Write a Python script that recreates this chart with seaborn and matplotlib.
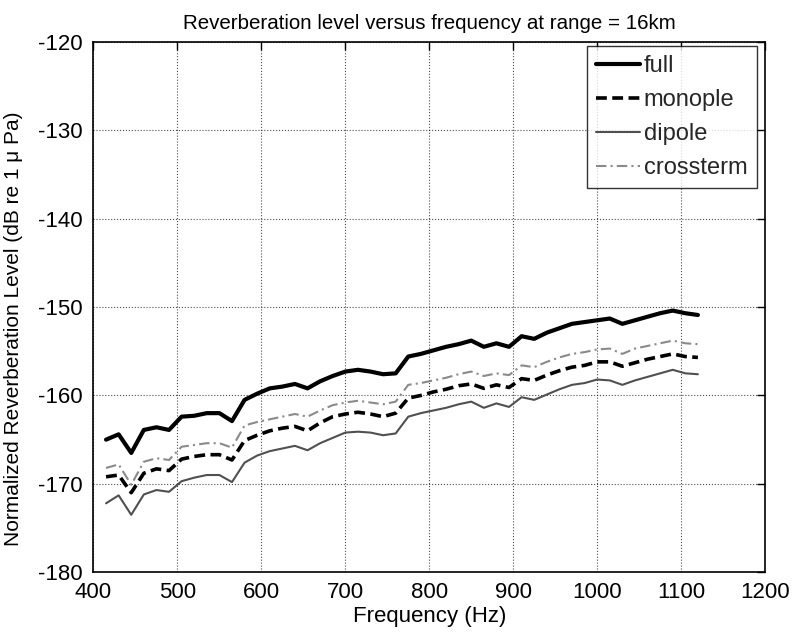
import matplotlib
matplotlib.use("Agg")
import matplotlib.pyplot as plt
import seaborn as sns
import pandas as pd

freq = [415, 430, 445, 460, 475, 490, 505, 520, 535, 550, 565, 580, 595, 610, 625, 640,
        655, 670, 685, 700, 715, 730, 745, 760, 775, 790, 805, 820, 835, 850, 865, 880,
        895, 910, 925, 940, 955, 970, 985, 1000, 1015, 1030, 1045, 1060, 1075, 1090, 1105, 1120]

full = [-165.0, -164.4, -166.5, -163.9, -163.6, -163.9, -162.4, -162.3, -162.0, -162.0, -162.9, -160.5,
        -159.8, -159.2, -159.0, -158.7, -159.2, -158.4, -157.8, -157.3, -157.1, -157.3, -157.6, -157.5,
        -155.6, -155.3, -154.9, -154.5, -154.2, -153.8, -154.5, -154.1, -154.5, -153.3, -153.6, -152.9,
        -152.4, -151.9, -151.7, -151.5, -151.3, -151.9, -151.5, -151.1, -150.7, -150.4, -150.7, -150.9]

monople = [-169.2, -169.0, -171.0, -168.8, -168.3, -168.5, -167.2, -166.9, -166.7, -166.7, -167.3, -165.1,
           -164.5, -164.0, -163.7, -163.5, -164.0, -163.1, -162.4, -162.1, -161.9, -162.1, -162.4, -162.0,
           -160.3, -160.0, -159.6, -159.3, -158.9, -158.7, -159.2, -158.8, -159.1, -158.1, -158.3, -157.7,
           -157.2, -156.8, -156.6, -156.2, -156.2, -156.7, -156.3, -155.9, -155.6, -155.3, -155.6, -155.7]

dipole = [-172.2, -171.3, -173.5, -171.2, -170.7, -170.9, -169.7, -169.3, -169.0, -169.0, -169.8, -167.6,
          -166.8, -166.3, -166.0, -165.7, -166.2, -165.4, -164.8, -164.2, -164.1, -164.2, -164.5, -164.3,
          -162.4, -162.0, -161.7, -161.4, -161.0, -160.7, -161.4, -160.9, -161.3, -160.2, -160.5, -159.9,
          -159.3, -158.8, -158.6, -158.2, -158.3, -158.8, -158.3, -157.9, -157.5, -157.1, -157.5, -157.6]

crossterm = [-168.2, -167.8, -170.1, -167.5, -167.1, -167.3, -165.8, -165.6, -165.4, -165.4, -165.9, -163.4,
             -163.0, -162.7, -162.4, -162.1, -162.4, -161.7, -161.1, -160.8, -160.6, -160.8, -161.0, -160.7,
             -158.8, -158.6, -158.3, -158.0, -157.6, -157.3, -157.8, -157.5, -157.7, -156.6, -156.8, -156.2,
             -155.7, -155.3, -155.1, -154.8, -154.7, -155.3, -154.7, -154.4, -154.1, -153.8, -154.1, -154.2]

x_ticks = [400, 500, 600, 700, 800, 900, 1000, 1100, 1200]
y_ticks = [-180, -170, -160, -150, -140, -130, -120]

sns.set_theme(style="white")
plt.rcParams['font.family'] = ['Liberation Sans', 'DejaVu Sans']
plt.rcParams['axes.unicode_minus'] = False

fig = plt.figure(figsize=(7.92, 6.43), dpi=100)
ax = fig.add_axes([0.118, 0.110, 0.848, 0.825])

series = [
    ("full", full, dict(color="black", lw=3.0, ls="-")),
    ("monople", monople, dict(color="black", lw=2.6, ls=(0, (3, 1.5)))),
    ("dipole", dipole, dict(color="#505050", lw=1.5, ls="-")),
    ("crossterm", crossterm, dict(color="#8a8a8a", lw=1.5, ls=(0, (5, 2, 1, 2)))),
]
for name, vals, st in series:
    df = pd.DataFrame({"freq": freq, "val": vals})
    sns.lineplot(data=df, x="freq", y="val", ax=ax, label=name,
                 color=st["color"], linewidth=st["lw"], linestyle=st["ls"])

ax.set_xlim(400, 1200)
ax.set_ylim(-180, -120)
ax.set_xticks(x_ticks)
ax.set_yticks(y_ticks)
ax.tick_params(direction="in", length=6, top=True, right=True, labelsize=16, colors="black", width=1)
ax.tick_params(axis="y", pad=8)
ax.tick_params(axis="x", pad=7)
ax.grid(True, linestyle=":", color="black", linewidth=0.8, alpha=0.7)
for s in ax.spines.values():
    s.set_color("black")
    s.set_linewidth(1.2)
ax.set_xlabel("Frequency (Hz)", fontsize=16, color="black", labelpad=2)
ax.set_ylabel("Normalized Reverberation Level (dB re 1 μ Pa)", fontsize=15, color="black")
ax.yaxis.set_label_coords(-0.105, 0.46)
ax.set_title("Reverberation level versus frequency at range = 16km", fontsize=14.8, color="black", pad=9)

leg = ax.legend(loc="upper right", bbox_to_anchor=(757 / 792, 1 - 46 / 643),
                bbox_transform=fig.transFigure, fontsize=17, frameon=True, fancybox=False,
                edgecolor="black", handlelength=1.85, handletextpad=0.18, borderpad=0.4,
                labelspacing=0.5, borderaxespad=0.0)
leg.get_frame().set_linewidth(1.0)

fig.savefig("out.png", dpi=100)
